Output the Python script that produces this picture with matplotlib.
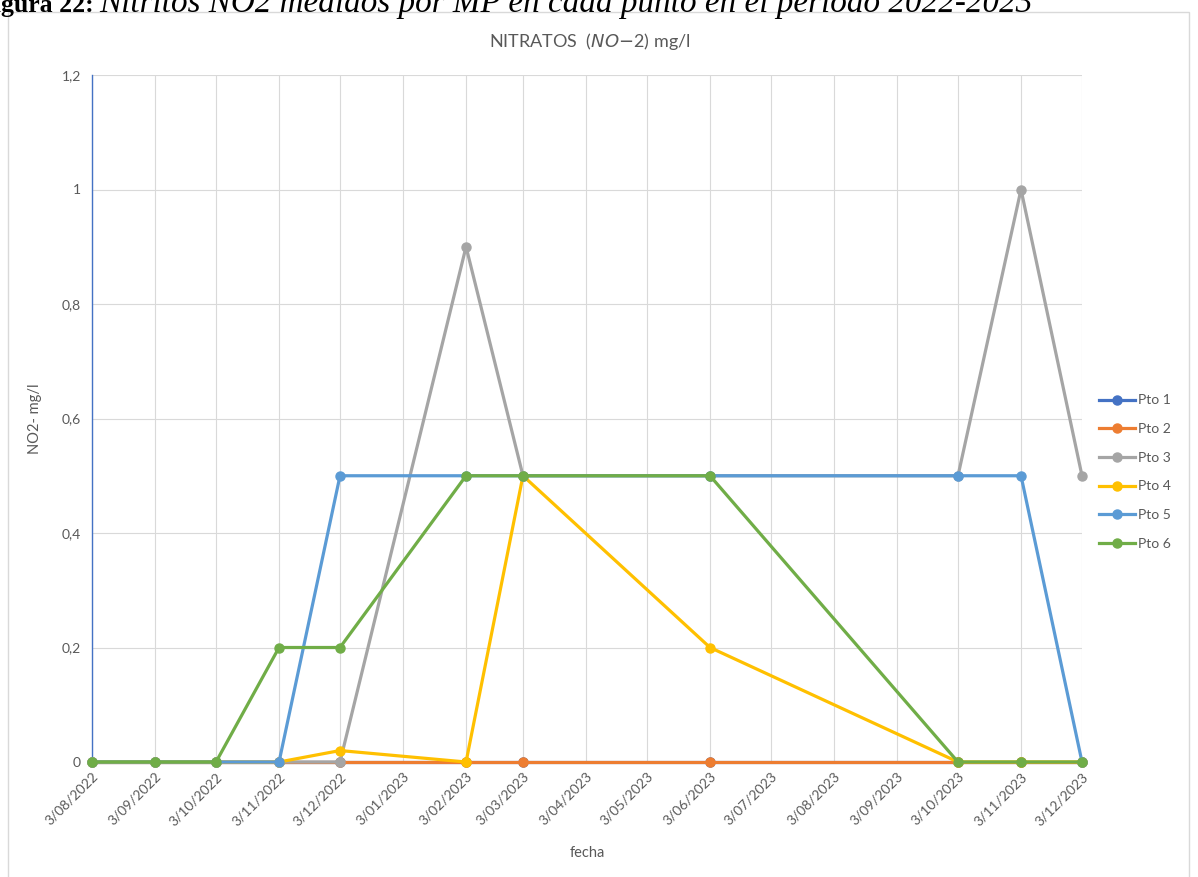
import matplotlib
matplotlib.use("Agg")
import matplotlib.pyplot as plt
from matplotlib.lines import Line2D
from matplotlib.patches import Rectangle
import datetime as dt

# ---- data ----
dates = ["2022-08-03", "2022-09-03", "2022-10-03", "2022-11-03", "2022-12-03",
         "2023-02-03", "2023-03-03", "2023-06-03", "2023-10-03", "2023-11-03", "2023-12-03"]
pto1 = [0, 0, 0, 0, 0, 0, 0, 0, 0, 0, 0]
pto2 = [0, 0, 0, 0, 0, 0, 0, 0, 0, 0, 0]
pto3 = [0, 0, 0, 0, 0, 0.9, 0.5, 0.5, 0.5, 1.0, 0.5]
pto4 = [0, 0, 0, 0, 0.02, 0, 0.5, 0.2, 0, 0, 0]
pto5 = [0, 0, 0, 0, 0.5, 0.5, 0.5, 0.5, 0.5, 0.5, 0]
pto6 = [0, 0, 0, 0.2, 0.2, 0.5, 0.5, 0.5, 0, 0, 0]
series_names = ["Pto 1", "Pto 2", "Pto 3", "Pto 4", "Pto 5", "Pto 6"]
colors = ["#4472C4", "#ED7D31", "#A5A5A5", "#FFC000", "#5B9BD5", "#70AD47"]
tick_dates = ["2022-08-03", "2022-09-03", "2022-10-03", "2022-11-03", "2022-12-03",
              "2023-01-03", "2023-02-03", "2023-03-03", "2023-04-03", "2023-05-03",
              "2023-06-03", "2023-07-03", "2023-08-03", "2023-09-03", "2023-10-03",
              "2023-11-03", "2023-12-03"]
tick_labels = ["3/08/2022", "3/09/2022", "3/10/2022", "3/11/2022", "3/12/2022",
               "3/01/2023", "3/02/2023", "3/03/2023", "3/04/2023", "3/05/2023",
               "3/06/2023", "3/07/2023", "3/08/2023", "3/09/2023", "3/10/2023",
               "3/11/2023", "3/12/2023"]
y_ticks = [0, 0.2, 0.4, 0.6, 0.8, 1.0, 1.2]
y_tick_labels = ["0", "0,2", "0,4", "0,6", "0,8", "1", "1,2"]

plt.rcParams['font.family'] = ['Lato', 'DejaVu Sans']
txt = "#595959"
grid_c = "#D9D9D9"

W, H = 1198, 877
fig = plt.figure(figsize=(W / 100, H / 100), dpi=100)

# outer chart border
fig.patches.append(Rectangle((8 / W, -0.01), (W - 9) / W - 8 / W, 1 - 12 / H + 0.01,
                             transform=fig.transFigure, fill=False,
                             edgecolor=grid_c, linewidth=1.0))

ax = fig.add_axes([92 / W, 1 - 762 / H, (1082 - 92) / W, (762 - 75) / H])

d = [dt.datetime.strptime(s, "%Y-%m-%d") for s in dates]
td = [dt.datetime.strptime(s, "%Y-%m-%d") for s in tick_dates]
all_series = [pto1, pto2, pto3, pto4, pto5, pto6]
for name, vals, c in zip(series_names, all_series, colors):
    ax.plot(d, vals, color=c, lw=2.3, marker='o', markersize=6.5,
            label=name, solid_capstyle='round', clip_on=False, zorder=3)

ax.set_xlim(td[0], td[-1])
ax.set_ylim(0, 1.2)
ax.set_xticks(td)
ax.set_xticklabels(tick_labels, rotation=45, ha='right', rotation_mode='anchor',
                   fontsize=10, color=txt)
ax.set_yticks(y_ticks)
ax.set_yticklabels(y_tick_labels, fontsize=10, color=txt)
ax.tick_params(axis='both', length=0, pad=8)
ax.tick_params(axis='x', pad=6)
ax.grid(True, color=grid_c, lw=0.8)
ax.set_axisbelow(True)
for s in ['top', 'right']:
    ax.spines[s].set_visible(False)
ax.spines['bottom'].set_color(grid_c)
ax.spines['left'].set_color("#4472C4")
ax.spines['left'].set_linewidth(1.0)

ax.set_xlabel("fecha", fontsize=10.5, color=txt)
ax.xaxis.set_label_coords((587 - 92) / (1082 - 92), -(846 - 762) / (762 - 75))
ax.set_ylabel("NO2- mg/l", fontsize=10.5, color=txt)
ax.yaxis.set_label_coords(-(92 - 42) / (1082 - 92), 0.5)

fig.text(590 / W, 1 - 42 / H, r"NITRATOS  ($NO$$-$2) mg/l", ha='center', va='center',
         fontsize=13, color=txt)

# caption (clipped at top, as in the source page)
fig.text(94 / W, 1 - 12 / H, "Figura 22:", ha='right', va='baseline', fontsize=18.5,
         fontweight='bold', family='Liberation Serif', color='black')
fig.text(99 / W, 1 - 12 / H, "Nitritos NO2 medidos por MP en cada punto en el periodo 2022-2023",
         ha='left', va='baseline', fontsize=23.9, style='italic', family='Liberation Serif',
         color='black')

handles = [Line2D([0], [0], color=c, lw=2.3, marker='o', markersize=6.5) for c in colors]
fig.legend(handles, series_names, loc='upper left',
           bbox_to_anchor=(1086 / W, 1 - 382 / H), frameon=False, fontsize=10,
           labelcolor=txt, handlelength=2.6, handletextpad=0.25, labelspacing=1.2)

fig.savefig("out.png", dpi=100)
